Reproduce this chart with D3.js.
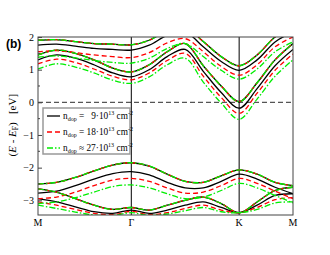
<!DOCTYPE html>
<html><head><meta charset="utf-8">
<script src="https://cdn.jsdelivr.net/npm/d3@7"></script>
<style>html,body{margin:0;padding:0;background:#fff;}svg{display:block;}</style>
</head><body>
<svg id="c" width="330" height="255"></svg>
<script>
// k-path M-Γ-K-M (units of 2π/a)
const kLabels = ["M","Γ","K","M"];
const kLabelPos = [0, 0.577, 1.244, 1.577];
const kNodes = [0, 0.115, 0.231, 0.346, 0.462, 0.577, 0.688, 0.799, 0.910, 1.022, 1.133, 1.244, 1.355, 1.466, 1.577];
const yTicks = [2, 1, 0, -1, -2, -3];
const legendLabels = [
  {n:"9", rel:"="},
  {n:"18", rel:"="},
  {n:"27", rel:"≈"}
];

// conduction bands (eV)
const c2_static = [1.90, 1.92, 1.86, 1.80, 1.78, 1.76, 1.90, 2.20, 2.30, 1.86, 1.40, 1.12, 1.45, 2.00, 2.30];
const c1_static = [1.45, 1.60, 1.50, 1.30, 1.05, 0.93, 1.15, 1.55, 1.80, 1.12, 0.50, 0.02, 0.60, 1.30, 1.80];
const c2_n9  = [1.75, 1.78, 1.72, 1.65, 1.62, 1.60, 1.75, 2.05, 2.15, 1.70, 1.25, 0.98, 1.30, 1.85, 2.15];
const c1_n9  = [1.30, 1.45, 1.35, 1.15, 0.90, 0.78, 1.00, 1.40, 1.62, 0.95, 0.30, -0.18, 0.42, 1.12, 1.62];
const c2_n18 = [1.55, 1.58, 1.52, 1.45, 1.40, 1.37, 1.52, 1.82, 1.95, 1.55, 1.10, 0.83, 1.15, 1.70, 2.00];
const c1_n18 = [1.18, 1.32, 1.22, 1.02, 0.80, 0.69, 0.90, 1.28, 1.50, 0.80, 0.15, -0.34, 0.28, 0.98, 1.48];
const c2_n27 = [1.38, 1.42, 1.36, 1.28, 1.22, 1.20, 1.35, 1.65, 1.80, 1.40, 0.98, 0.71, 1.02, 1.55, 1.85];
const c1_n27 = [1.02, 1.18, 1.08, 0.90, 0.68, 0.58, 0.78, 1.15, 1.35, 0.62, -0.02, -0.52, 0.10, 0.80, 1.30];

// valence bands (eV)
const v1_static = [-2.50, -2.45, -2.30, -2.10, -1.92, -1.85, -1.95, -2.20, -2.42, -2.45, -2.25, -2.07, -2.20, -2.45, -2.55];
const v1_n9  = [-2.78, -2.72, -2.55, -2.35, -2.18, -2.12, -2.22, -2.45, -2.62, -2.62, -2.42, -2.20, -2.35, -2.60, -2.80];
const v1_n18 = [-2.95, -2.90, -2.75, -2.55, -2.38, -2.33, -2.42, -2.62, -2.78, -2.75, -2.55, -2.33, -2.48, -2.72, -2.95];
const v1_n27 = [-3.10, -3.05, -2.92, -2.75, -2.58, -2.53, -2.62, -2.80, -2.95, -2.90, -2.70, -2.48, -2.62, -2.85, -3.08];
const v2_static = [-2.65, -2.75, -2.95, -3.15, -3.28, -3.22, -3.30, -3.15, -3.00, -2.90, -3.10, -3.38, -3.05, -2.70, -2.60];
const v2_n9  = [-2.95, -3.05, -3.20, -3.35, -3.40, -3.30, -3.40, -3.30, -3.15, -3.05, -3.22, -3.38, -3.15, -2.85, -2.80];
const v2_n18 = [-3.05, -3.15, -3.28, -3.40, -3.44, -3.34, -3.44, -3.38, -3.25, -3.15, -3.30, -3.38, -3.22, -2.98, -2.92];
const v2_n27 = [-3.15, -3.25, -3.36, -3.45, -3.46, -3.38, -3.46, -3.42, -3.32, -3.22, -3.35, -3.38, -3.28, -3.08, -3.05];

const seriesBlack = [c2_static, c1_static, c2_n9, c1_n9, v1_static, v1_n9, v2_static, v2_n9];
const seriesRed   = [c2_static, c1_static, c2_n18, c1_n18, v1_static, v1_n18, v2_static, v2_n18];
const seriesGreen = [c2_static, c1_static, c2_n27, c1_n27, v1_static, v1_n27, v2_static, v2_n27];

const svg = d3.select("#c");
const L = 38, R = 293, T = 37, B = 215;
const x = d3.scaleLinear().domain([0, 1.577]).range([L, R]);
const y = d3.scaleLinear().domain([-3.45, 2]).range([B, T]);

const defs = svg.append("defs");
defs.append("clipPath").attr("id","clip").append("rect")
  .attr("x", L).attr("y", T).attr("width", R-L).attr("height", B-T);

const line = d3.line().x((d,i)=>x(kNodes[i])).y(d=>y(d)).curve(d3.curveCatmullRom.alpha(0.5));

const g = svg.append("g").attr("clip-path","url(#clip)");
// zero line
g.append("line").attr("x1", L).attr("x2", R).attr("y1", y(0)).attr("y2", y(0))
  .attr("stroke","#555").attr("stroke-width",1.2).attr("stroke-dasharray","5,3");
// high symmetry verticals
[kLabelPos[1], kLabelPos[2]].forEach(k => {
  g.append("line").attr("x1", x(k)).attr("x2", x(k)).attr("y1", T).attr("y2", B)
    .attr("stroke","#000").attr("stroke-width",1);
});

const styles = [
  {data: seriesBlack, color:"#000", dash:null},
  {data: seriesRed, color:"#ff0000", dash:"5,3"},
  {data: seriesGreen, color:"#00ee00", dash:"6,2,1.5,2"}
];
styles.forEach(s => {
  s.data.forEach(b => {
    g.append("path").attr("d", line(b)).attr("fill","none")
      .attr("stroke", s.color).attr("stroke-width",1.3)
      .attr("stroke-dasharray", s.dash);
  });
});

// frame
svg.append("rect").attr("x", L).attr("y", T).attr("width", R-L).attr("height", B-T)
  .attr("fill","none").attr("stroke","#444").attr("stroke-width",1);

// y ticks
const yAxis = d3.axisLeft(y).tickValues(yTicks).tickSize(-4).tickPadding(4).tickFormat(d3.format("d"));
const ya = svg.append("g").attr("transform",`translate(${L},0)`).call(yAxis);
ya.select(".domain").remove();
ya.selectAll("text").attr("font-family","Liberation Serif").attr("font-size",10).attr("fill","#000");
ya.selectAll("line").attr("stroke","#444");
const minor = d3.range(-3.5, 2, 1).filter(v => v > -3.45);
svg.append("g").selectAll("line").data(minor).join("line")
  .attr("x1", L).attr("x2", L+2).attr("y1", d=>y(d)).attr("y2", d=>y(d)).attr("stroke","#444");

// x labels
svg.append("g").selectAll("text").data(kLabels).join("text")
  .attr("x", (d,i)=>x(kLabelPos[i])).attr("y", 226)
  .attr("text-anchor","middle").attr("font-family","Liberation Serif").attr("font-size",10).text(d=>d);

// y title
const yt = svg.append("text").attr("transform", `translate(16,${y(-0.7)}) rotate(-90)`)
  .attr("text-anchor","middle").attr("font-family","Liberation Serif").attr("font-size",11);
yt.append("tspan").text("(");
yt.append("tspan").attr("font-style","italic").text("E");
yt.append("tspan").text(" - ");
yt.append("tspan").attr("font-style","italic").text("E");
yt.append("tspan").attr("font-size",7.5).attr("dy",2).text("F");
yt.append("tspan").attr("dy",-2).text(")\u2002 [eV]");

// panel label
svg.append("text").attr("x", 6).attr("y", 48).attr("font-family","Liberation Sans")
  .attr("font-weight","bold").attr("font-size",12).text("(b)");

// legend
const lg = svg.append("g");
lg.append("rect").attr("x", 43).attr("y", 108).attr("width", 87).attr("height", 46)
  .attr("fill","#fff").attr("stroke","#999").attr("stroke-width",1.5);
const rowY = [116, 132, 148];
styles.forEach((s, i) => {
  lg.append("line").attr("x1", 47).attr("x2", 60).attr("y1", rowY[i]).attr("y2", rowY[i])
    .attr("stroke", s.color).attr("stroke-width",1.3).attr("stroke-dasharray", s.dash);
  const t = lg.append("text").attr("x", 63).attr("y", rowY[i]+3)
    .attr("font-family","Liberation Serif").attr("font-size",9.3);
  t.append("tspan").text("n");
  t.append("tspan").attr("font-size",6).attr("dy",2).text("dop");
  t.append("tspan").attr("dy",-2).text(` ${legendLabels[i].rel} ${legendLabels[i].n.length===1?"\u2007":""}${legendLabels[i].n}·10`);
  t.append("tspan").attr("font-size",6).attr("dy",-4).text("13");
  t.append("tspan").attr("dy",4).text(" cm");
  t.append("tspan").attr("font-size",6).attr("dy",-4).text("-2");
});
</script>
</body></html>
